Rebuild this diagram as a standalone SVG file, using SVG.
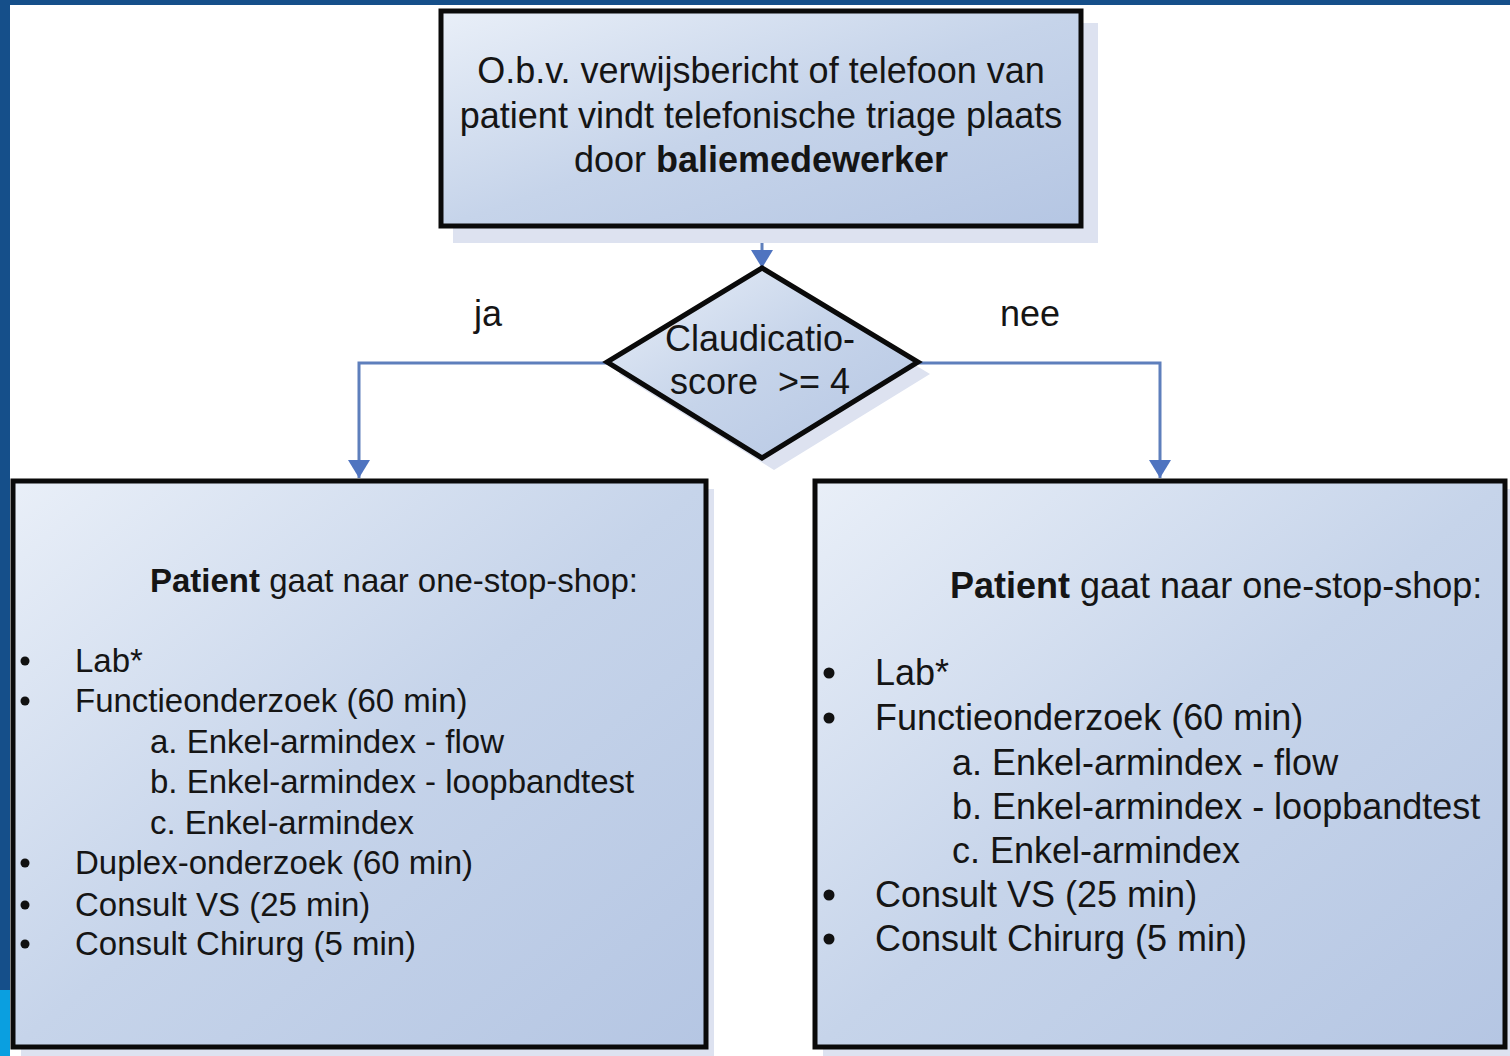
<svg xmlns="http://www.w3.org/2000/svg" width="1510" height="1056" viewBox="0 0 1510 1056">
<defs>
<linearGradient id="fillGrad" x1="0" y1="0" x2="1" y2="1">
<stop offset="0" stop-color="#e9eff8"/>
<stop offset="0.5" stop-color="#c6d4ea"/>
<stop offset="1" stop-color="#b5c6e3"/>
</linearGradient>
<marker id="arrow" viewBox="0 0 18 22" refX="18" refY="11" markerWidth="18" markerHeight="22" markerUnits="userSpaceOnUse" orient="auto">
<path d="M0,0 L18,11 L0,22 z" fill="#4f74c0"/>
</marker>
</defs>
<style>
.t{font-family:"Liberation Sans",Arial,sans-serif;fill:#151515;}
.b{font-weight:bold;}
.box{fill:url(#fillGrad);stroke:#0a0a0a;stroke-width:5;}
.shadow{fill:#dde2f0;}
.conn{fill:none;stroke:#5e7fbc;stroke-width:3;}
.dot{fill:#111;}
</style>
<rect x="0" y="0" width="1510" height="1056" fill="#ffffff"/>
<g id="frame">
<rect x="0" y="0" width="1510" height="5" fill="#154f8a"/>
<rect x="0" y="0" width="10" height="990" fill="#154f8a"/>
<rect x="0" y="990" width="10" height="66" fill="#0a9fe0"/>
</g>
<g id="connectors">
<path class="conn" d="M762,229 V268" marker-end="url(#arrow)"/>
<path class="conn" d="M607,363 H359 V478" marker-end="url(#arrow)"/>
<path class="conn" d="M918,363 H1160 V478" marker-end="url(#arrow)"/>
</g>
<g id="start">
<rect class="shadow" x="453" y="23" width="645" height="220"/>
<rect class="box" x="441" y="11" width="640" height="215"/>
<text class="t" font-size="36" text-anchor="middle" x="761" y="83">O.b.v. verwijsbericht of telefoon van</text>
<text class="t" font-size="36" text-anchor="middle" x="761" y="128">patient vindt telefonische triage plaats</text>
<text class="t" font-size="36" text-anchor="middle" x="761" y="172">door <tspan class="b">baliemedewerker</tspan></text>
</g>
<g id="decision">
<polygon class="shadow" points="774,280 930,374 774,470 619,374"/>
<polygon class="box" points="762,268 918,362 762,458 607,362"/>
<text class="t" font-size="36" text-anchor="middle" x="760" y="351">Claudicatio-</text>
<text class="t" font-size="36" text-anchor="middle" x="760" y="394" xml:space="preserve" style="white-space:pre">score  &gt;= 4</text>
</g>
<g id="labels">
<text class="t" font-size="36" x="474" y="326">ja</text>
<text class="t" font-size="36" x="1000" y="326">nee</text>
</g>
<g id="left-box">
<rect class="shadow" x="21" y="489" width="693" height="570"/>
<rect class="box" x="13" y="481" width="693" height="566"/>
<text class="t" font-size="33" x="150" y="592"><tspan class="b">Patient</tspan> gaat naar one-stop-shop:</text>
<circle class="dot" cx="25" cy="661" r="4.5"/>
<text class="t" font-size="33" x="75" y="672">Lab*</text>
<circle class="dot" cx="25" cy="701" r="4.5"/>
<text class="t" font-size="33" x="75" y="712">Functieonderzoek (60 min)</text>
<text class="t" font-size="33" x="150" y="753">a. Enkel-armindex - flow</text>
<text class="t" font-size="33" x="150" y="793">b. Enkel-armindex - loopbandtest</text>
<text class="t" font-size="33" x="150" y="834">c. Enkel-armindex</text>
<circle class="dot" cx="25" cy="863" r="4.5"/>
<text class="t" font-size="33" x="75" y="874">Duplex-onderzoek (60 min)</text>
<circle class="dot" cx="25" cy="905" r="4.5"/>
<text class="t" font-size="33" x="75" y="916">Consult VS (25 min)</text>
<circle class="dot" cx="25" cy="944" r="4.5"/>
<text class="t" font-size="33" x="75" y="955">Consult Chirurg (5 min)</text>
</g>
<g id="right-box">
<rect class="shadow" x="823" y="489" width="690" height="570"/>
<rect class="box" x="815" y="481" width="690" height="566"/>
<text class="t" font-size="36" x="950" y="598"><tspan class="b">Patient</tspan> gaat naar one-stop-shop:</text>
<circle class="dot" cx="829" cy="673" r="5.5"/>
<text class="t" font-size="36" x="875" y="685">Lab*</text>
<circle class="dot" cx="829" cy="718" r="5.5"/>
<text class="t" font-size="36" x="875" y="730">Functieonderzoek (60 min)</text>
<text class="t" font-size="36" x="952" y="775">a. Enkel-armindex - flow</text>
<text class="t" font-size="36" x="952" y="819">b. Enkel-armindex - loopbandtest</text>
<text class="t" font-size="36" x="952" y="863">c. Enkel-armindex</text>
<circle class="dot" cx="829" cy="895" r="5.5"/>
<text class="t" font-size="36" x="875" y="907">Consult VS (25 min)</text>
<circle class="dot" cx="829" cy="939" r="5.5"/>
<text class="t" font-size="36" x="875" y="951">Consult Chirurg (5 min)</text>
</g>
</svg>
